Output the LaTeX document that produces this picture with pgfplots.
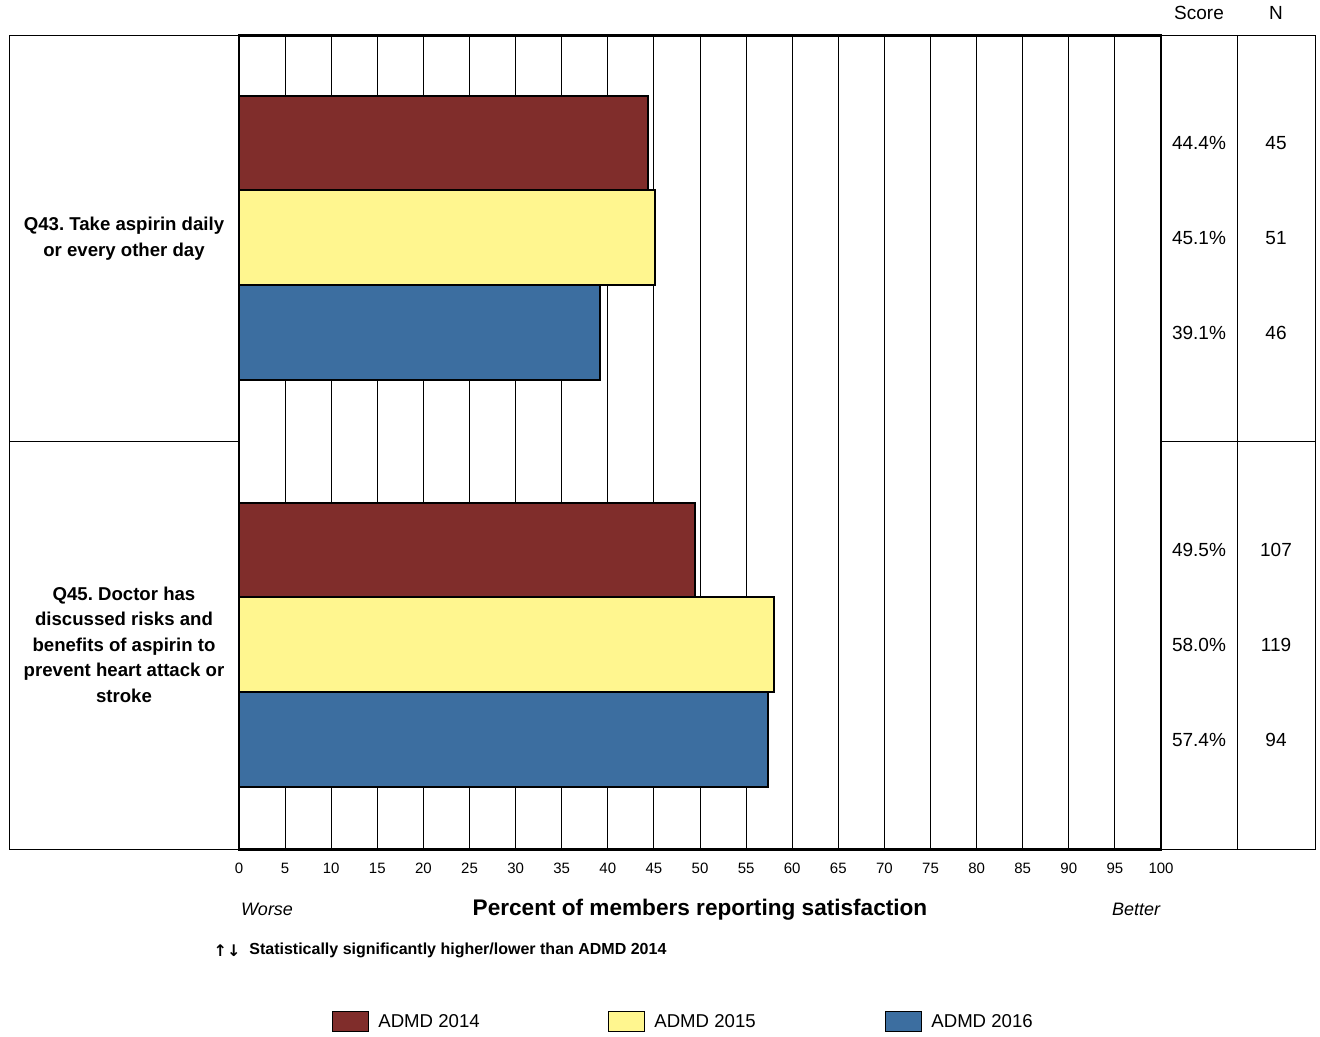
\documentclass[border=0pt]{standalone}
\usepackage{pgfplots}
\pgfplotsset{compat=1.18}
\usepackage{fontspec}
\setmainfont{Liberation Sans}
\newfontfamily\djv{DejaVu Sans}
\definecolor{c14}{RGB}{128,45,43}
\definecolor{c15}{RGB}{255,246,143}
\definecolor{c16}{RGB}{60,110,160}
\begin{document}
\frenchspacing
\begin{tikzpicture}
\begin{scope}[x=0.5pt,y=-0.5pt]
\useasboundingbox (0,0) rectangle (1320,1036);
% outer boxes
\draw[line width=0.5pt] (9,35) rectangle (239,849);
\draw[line width=0.5pt] (9,441) -- (239,441);
\draw[line width=0.5pt] (1161,35) rectangle (1315,849);
\draw[line width=0.5pt] (1237,35) -- (1237,849);
\draw[line width=0.5pt] (1161,441) -- (1315,441);
\end{scope}
\begin{axis}[
  at={(119.5pt,-424.5pt)}, anchor=south west,
  scale only axis, width=461pt, height=407pt,
  xmin=0, xmax=100, ymin=187, ymax=1001,
  xtick={0,5,...,100}, ytick=\empty,
  major tick length=0pt,
  xmajorgrids, grid style={line width=0.5pt, black},
  axis line style={line width=1.2pt},
  xticklabel style={font=\fontsize{7.5}{9}\selectfont, yshift=-3.5pt},
  /pgf/number format/assume math mode=true,
  xbar, bar width=95, bar shift=0pt,
  every axis plot/.append style={draw=black, line width=1pt},
]
\addplot[fill=c14] coordinates {(44.4,893) (49.5,486)};
\addplot[fill=c15] coordinates {(45.1,798.5) (58.0,391.5)};
\addplot[fill=c16] coordinates {(39.1,703.5) (57.4,296.5)};
\end{axis}
\begin{scope}[x=0.5pt,y=-0.5pt]
% header
\node[font=\fontsize{9.5}{11}\selectfont] at (1199,13) {Score};
\node[font=\fontsize{9.5}{11}\selectfont] at (1276,13) {N};
\foreach \y/\s/\n in {143/44.4\%/45, 237.5/45.1\%/51, 332.5/39.1\%/46, 550/49.5\%/107, 644.5/58.0\%/119, 739.5/57.4\%/94}{
  \node[font=\fontsize{9.5}{11}\selectfont] at (1199,\y) {\s};
  \node[font=\fontsize{9.5}{11}\selectfont] at (1276,\y) {\n};
}
% left labels
\node[font=\bfseries\fontsize{9.3}{12.75}\selectfont, align=center] at (124,238.5) {Q43. Take aspirin daily\\or every other day};
\node[font=\bfseries\fontsize{9.3}{12.75}\selectfont, align=center] at (124,644) {Q45. Doctor has\\discussed risks and\\benefits of aspirin to\\prevent heart attack or\\stroke};
% axis titles
\node[font=\itshape\fontsize{9}{11}\selectfont] at (267,909) {Worse};
\node[font=\itshape\fontsize{9}{11}\selectfont] at (1136,909) {Better};
\node[font=\bfseries\fontsize{11.3}{13}\selectfont] at (700,909) {Percent of members reporting satisfaction};
% footnote
\node[font=\djv\bfseries\fontsize{8}{9}\selectfont, inner sep=0pt] at (227,950) {↑↓};
\node[font=\bfseries\fontsize{8}{9}\selectfont, anchor=west, inner sep=0pt] at (249,950) {Statistically significantly higher/lower than ADMD 2014};
% legend
\foreach \x/\c/\t in {332/c14/ADMD 2014, 608/c15/ADMD 2015, 885/c16/ADMD 2016}{
  \draw[fill=\c, line width=0.5pt] (\x,1011) rectangle ++(36,20);
  \node[font=\fontsize{9.3}{11}\selectfont, anchor=west, inner sep=0pt] at (\x+46,1021) {\t};
}
\end{scope}
\end{tikzpicture}
\end{document}
